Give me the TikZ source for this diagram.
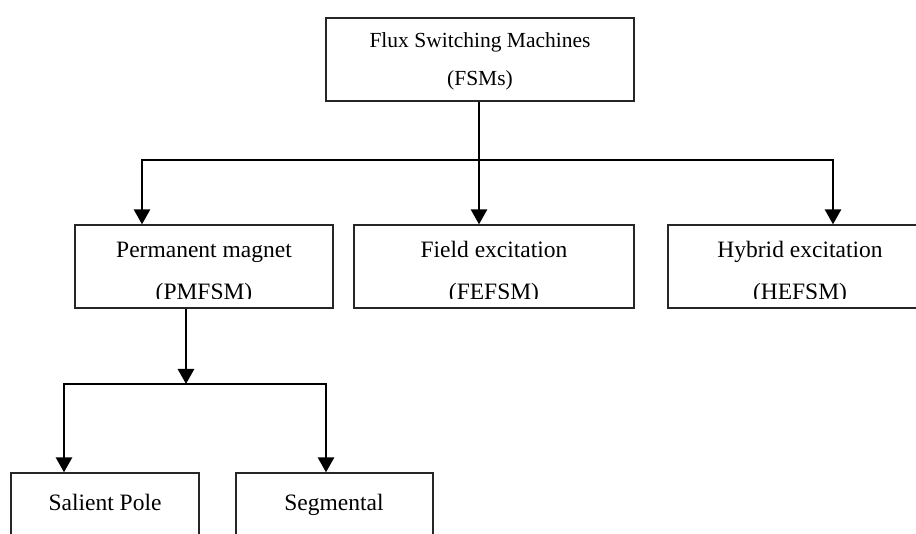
\documentclass[tikz,border=0pt]{standalone}
\usepackage{fontspec}
\setmainfont{Liberation Serif}
\usetikzlibrary{arrows.meta}
\begin{document}
\begin{tikzpicture}[x=1pt,y=-1pt,
  box/.style={draw=black!85,line width=1.3pt,inner sep=0pt,fill=none},
  lbl/.style={anchor=base,inner sep=0pt,font=\fontsize{23.5}{28}\selectfont},
  toplbl/.style={anchor=base,inner sep=0pt,font=\fontsize{21.5}{26}\selectfont},
  arr/.style={line width=2.8pt,-{Triangle[width=16pt,length=15pt]}},
  link/.style={line width=1.8pt}]
\useasboundingbox[fill=white] (0,0) rectangle (916,534);
% boxes
\node[box,minimum width=308pt,minimum height=83pt] (top) at (480,59.5) {};
\node[box,minimum width=258pt,minimum height=83pt] (pm) at (204,266.5) {};
\node[box,minimum width=280pt,minimum height=83pt] (fe) at (494,266.5) {};
\node[box,minimum width=264pt,minimum height=83pt] (he) at (800,266.5) {};
\node[box,minimum width=188pt,minimum height=90pt] (sp) at (105,518) {};
\node[box,minimum width=197pt,minimum height=90pt] (sg) at (334.5,518) {};
% labels
\node[toplbl] (t1) at (480,48) {Flux Switching Machines};
\node[toplbl] (t2) at (480,86) {(FSMs)};
\begin{scope}
\clip ([yshift=-1pt]pm.north west) rectangle ([yshift=10pt]pm.south east);
\node[lbl] (pm1) at (204,258) {Permanent magnet};
\node[lbl] (pm2) at (204,300) {(PMFSM)};
\end{scope}
\begin{scope}
\clip ([yshift=-1pt]fe.north west) rectangle ([yshift=10pt]fe.south east);
\node[lbl] (fe1) at (494,258) {Field excitation};
\node[lbl] (fe2) at (494,300) {(FEFSM)};
\end{scope}
\begin{scope}
\clip ([yshift=-1pt]he.north west) rectangle ([yshift=10pt]he.south east);
\node[lbl] (he1) at (800,258) {Hybrid excitation};
\node[lbl] (he2) at (800,300) {(HEFSM)};
\end{scope}
\node[lbl] (sp1) at (105,511) {Salient Pole};
\node[lbl] (sg1) at (334,511) {Segmental};
% connectors
\coordinate (l1) at (142,160);
\coordinate (r1) at (833,160);
\coordinate (m1) at (479,160);
\draw[link] (l1) -- (r1);
\draw[arr] (m1 |- top.south) -- (m1 |- fe.north);
\draw[arr] ([yshift=0.9pt]l1) -- (l1 |- pm.north);
\draw[arr] ([yshift=0.9pt]r1) -- (r1 |- he.north);
\coordinate (j2) at (186,384);
\coordinate (l2) at (64,384);
\coordinate (r2) at (326,384);
\draw[link] (l2) -- (r2);
\draw[arr] (j2 |- pm.south) -- (j2);
\draw[arr] ([yshift=0.9pt]l2) -- (l2 |- sp.north);
\draw[arr] ([yshift=0.9pt]r2) -- (r2 |- sg.north);
\end{tikzpicture}
\end{document}
